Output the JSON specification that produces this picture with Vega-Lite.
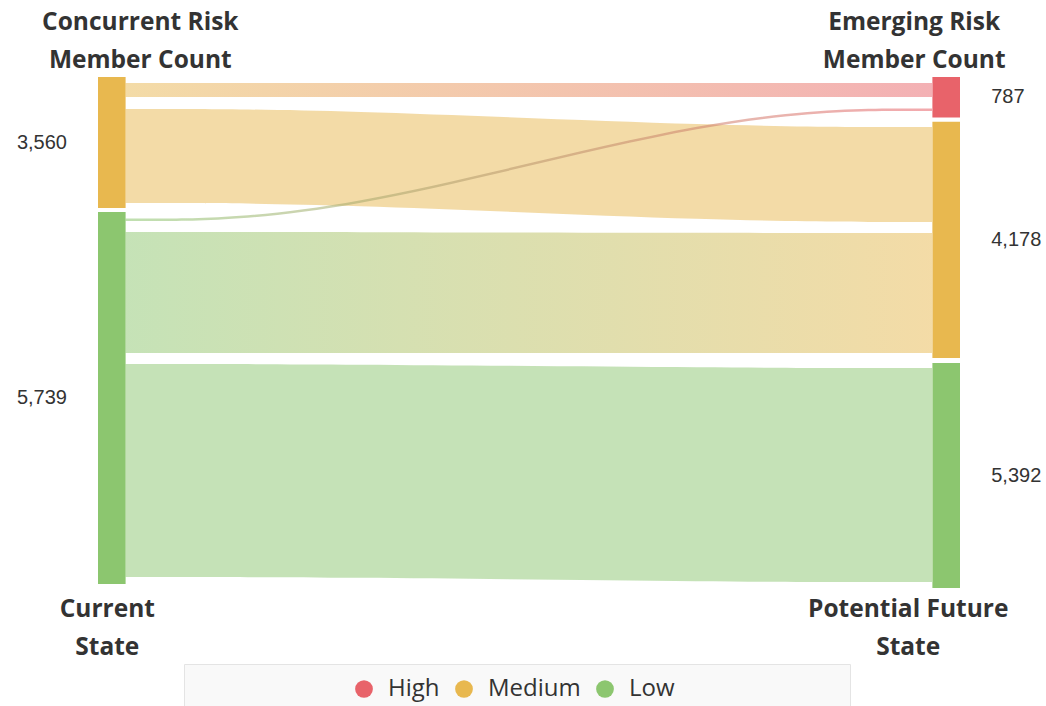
{
  "$schema": "https://vega.github.io/schema/vega-lite/v6.json",
  "width": 1046,
  "height": 706,
  "autosize": {"type": "none"},
  "padding": 0,
  "background": "white",
  "config": {"view": {"stroke": null}},
  "datasets": {
    "nodes": [
      {"stage": 0, "level": "Medium", "top": 0, "bottom": 131, "members": 3560},
      {"stage": 0, "level": "Low", "top": 135, "bottom": 507, "members": 5739},
      {"stage": 1, "level": "High", "top": 0, "bottom": 40.5, "members": 787},
      {"stage": 1, "level": "Medium", "top": 44.7, "bottom": 281, "members": 4178},
      {"stage": 1, "level": "Low", "top": 286, "bottom": 511, "members": 5392}
    ],
    "links": [
      {"flow": "Medium-High", "t": 0, "top": 6, "bottom": 20},
      {"flow": "Medium-High", "t": 0.25, "top": 6, "bottom": 20},
      {"flow": "Medium-High", "t": 0.75, "top": 6, "bottom": 20},
      {"flow": "Medium-High", "t": 1, "top": 6, "bottom": 20},
      {"flow": "Medium-Medium", "t": 0, "top": 32, "bottom": 126},
      {"flow": "Medium-Medium", "t": 0.25, "top": 32, "bottom": 126},
      {"flow": "Medium-Medium", "t": 0.75, "top": 50, "bottom": 145},
      {"flow": "Medium-Medium", "t": 1, "top": 50, "bottom": 145},
      {"flow": "Low-High", "t": 0, "top": 141.5, "bottom": 144},
      {"flow": "Low-High", "t": 0.25, "top": 141.5, "bottom": 144},
      {"flow": "Low-High", "t": 0.75, "top": 31.5, "bottom": 34},
      {"flow": "Low-High", "t": 1, "top": 31.5, "bottom": 34},
      {"flow": "Low-Medium", "t": 0, "top": 155, "bottom": 276},
      {"flow": "Low-Medium", "t": 0.25, "top": 155, "bottom": 276},
      {"flow": "Low-Medium", "t": 0.75, "top": 156, "bottom": 276},
      {"flow": "Low-Medium", "t": 1, "top": 156, "bottom": 276},
      {"flow": "Low-Low", "t": 0, "top": 287, "bottom": 500},
      {"flow": "Low-Low", "t": 0.25, "top": 287, "bottom": 500},
      {"flow": "Low-Low", "t": 0.75, "top": 291, "bottom": 505},
      {"flow": "Low-Low", "t": 1, "top": 291, "bottom": 505}
    ],
    "headers": [
      {"stage": 0, "place": "top", "lines": ["Concurrent Risk", "Member Count"]},
      {"stage": 1, "place": "top", "lines": ["Emerging Risk", "Member Count"]},
      {"stage": 0, "place": "bottom", "lines": ["Current", "State"]},
      {"stage": 1, "place": "bottom", "lines": ["Potential Future", "State"]}
    ]
  },
  "layer": [
    {
      "data": {"name": "links"},
      "transform": [{"filter": "datum.flow == 'Medium-High'"}],
      "mark": {"type": "area", "interpolate": "basis", "fillOpacity": 0.5,
        "fill": {"gradient": "linear", "x1": 0, "x2": 1, "y1": 0, "y2": 0,
          "stops": [{"offset": 0, "color": "#e8b84f"}, {"offset": 1, "color": "#e8636a"}]}},
      "encoding": {
        "x": {"field": "t", "type": "quantitative", "scale": {"domain": [0, 1], "range": [125.5, 932]}, "axis": null},
        "y": {"field": "top", "type": "quantitative", "scale": {"domain": [0, 511], "range": [77, 588]}, "axis": null, "stack": null},
        "y2": {"field": "bottom"}
      }
    },
    {
      "data": {"name": "links"},
      "transform": [{"filter": "datum.flow == 'Medium-Medium'"}],
      "mark": {"type": "area", "interpolate": "basis", "fillOpacity": 0.5, "fill": "#e8b84f"},
      "encoding": {
        "x": {"field": "t", "type": "quantitative", "scale": {"domain": [0, 1], "range": [125.5, 932]}, "axis": null},
        "y": {"field": "top", "type": "quantitative", "scale": {"domain": [0, 511], "range": [77, 588]}, "axis": null, "stack": null},
        "y2": {"field": "bottom"}
      }
    },
    {
      "data": {"name": "links"},
      "transform": [{"filter": "datum.flow == 'Low-High'"}],
      "mark": {"type": "area", "interpolate": "basis", "fillOpacity": 0.55,
        "fill": {"gradient": "linear", "x1": 0, "x2": 1, "y1": 0, "y2": 0,
          "stops": [{"offset": 0, "color": "#8cc66f"}, {"offset": 1, "color": "#e8636a"}]}},
      "encoding": {
        "x": {"field": "t", "type": "quantitative", "scale": {"domain": [0, 1], "range": [125.5, 932]}, "axis": null},
        "y": {"field": "top", "type": "quantitative", "scale": {"domain": [0, 511], "range": [77, 588]}, "axis": null, "stack": null},
        "y2": {"field": "bottom"}
      }
    },
    {
      "data": {"name": "links"},
      "transform": [{"filter": "datum.flow == 'Low-Medium'"}],
      "mark": {"type": "area", "interpolate": "basis", "fillOpacity": 0.5,
        "fill": {"gradient": "linear", "x1": 0, "x2": 1, "y1": 0, "y2": 0,
          "stops": [{"offset": 0, "color": "#8cc66f"}, {"offset": 1, "color": "#e8b84f"}]}},
      "encoding": {
        "x": {"field": "t", "type": "quantitative", "scale": {"domain": [0, 1], "range": [125.5, 932]}, "axis": null},
        "y": {"field": "top", "type": "quantitative", "scale": {"domain": [0, 511], "range": [77, 588]}, "axis": null, "stack": null},
        "y2": {"field": "bottom"}
      }
    },
    {
      "data": {"name": "links"},
      "transform": [{"filter": "datum.flow == 'Low-Low'"}],
      "mark": {"type": "area", "interpolate": "basis", "fillOpacity": 0.5, "fill": "#8cc66f"},
      "encoding": {
        "x": {"field": "t", "type": "quantitative", "scale": {"domain": [0, 1], "range": [125.5, 932]}, "axis": null},
        "y": {"field": "top", "type": "quantitative", "scale": {"domain": [0, 511], "range": [77, 588]}, "axis": null, "stack": null},
        "y2": {"field": "bottom"}
      }
    },
    {
      "data": {"name": "nodes"},
      "mark": {"type": "bar", "width": 27.6, "opacity": 1},
      "encoding": {
        "x": {"field": "stage", "type": "quantitative", "scale": {"domain": [0, 1], "range": [111.8, 946.2], "padding": 0}, "axis": null, "stack": null},
        "y": {"field": "top", "type": "quantitative", "scale": {"domain": [0, 511], "range": [77, 588]}, "axis": null, "stack": null},
        "y2": {"field": "bottom"},
        "color": {
          "field": "level", "type": "nominal",
          "scale": {"domain": ["High", "Medium", "Low"], "range": ["#e8636a", "#e8b84f", "#8cc66f"]},
          "legend": {
            "orient": "none", "legendX": 184, "legendY": 664, "direction": "horizontal",
            "title": "\u00a0", "titleOrient": "left", "titleFontSize": 1, "titlePadding": 155,
            "symbolType": "circle", "symbolSize": 314, "symbolStrokeWidth": 0, "symbolOpacity": 1,
            "labelFont": "Open Sans", "labelFontSize": 24, "labelColor": "#333333",
            "labelOffset": 12, "columnPadding": 12, "labelLimit": 1000, "padding": 13,
            "fillColor": "#f9f9f9", "strokeColor": "#e4e4e4",
            "labelExpr": "datum.label == 'Low' ? pad(datum.label, 29, '\u00a0') + '\u200b' : datum.label"
          }
        }
      }
    },
    {
      "data": {"name": "nodes"},
      "transform": [{"filter": "datum.stage == 0"}, {"calculate": "(datum.top + datum.bottom) / 2", "as": "mid"}],
      "mark": {"type": "text", "align": "right", "baseline": "middle", "dx": -44.8, "font": "Liberation Sans", "fontSize": 20, "color": "#333333"},
      "encoding": {
        "x": {"field": "stage", "type": "quantitative", "scale": {"domain": [0, 1], "range": [111.8, 946.2]}, "axis": null},
        "y": {"field": "mid", "type": "quantitative", "scale": {"domain": [0, 511], "range": [77, 588]}, "axis": null},
        "text": {"field": "members", "type": "quantitative", "format": ","}
      }
    },
    {
      "data": {"name": "nodes"},
      "transform": [{"filter": "datum.stage == 1"}, {"calculate": "(datum.top + datum.bottom) / 2", "as": "mid"}],
      "mark": {"type": "text", "align": "left", "baseline": "middle", "dx": 45, "font": "Liberation Sans", "fontSize": 20, "color": "#333333"},
      "encoding": {
        "x": {"field": "stage", "type": "quantitative", "scale": {"domain": [0, 1], "range": [111.8, 946.2]}, "axis": null},
        "y": {"field": "mid", "type": "quantitative", "scale": {"domain": [0, 511], "range": [77, 588]}, "axis": null},
        "text": {"field": "members", "type": "quantitative", "format": ","}
      }
    },
    {
      "data": {"name": "headers"},
      "transform": [{"filter": "datum.stage == 0 && datum.place == 'top'"}],
      "mark": {"type": "text", "align": "center", "baseline": "alphabetic", "dx": 28.5, "lineHeight": 38, "font": "Open Sans", "fontWeight": "bold", "fontSize": 24.5, "color": "#333333"},
      "encoding": {
        "x": {"field": "stage", "type": "quantitative", "scale": {"domain": [0, 1], "range": [111.8, 946.2]}, "axis": null},
        "y": {"field": "place", "type": "nominal", "scale": {"domain": ["top", "bottom"], "range": [30, 617], "padding": 0}, "axis": null},
        "text": {"field": "lines"}
      }
    },
    {
      "data": {"name": "headers"},
      "transform": [{"filter": "datum.stage == 1 && datum.place == 'top'"}],
      "mark": {"type": "text", "align": "center", "baseline": "alphabetic", "dx": -32, "lineHeight": 38, "font": "Open Sans", "fontWeight": "bold", "fontSize": 24.5, "color": "#333333"},
      "encoding": {
        "x": {"field": "stage", "type": "quantitative", "scale": {"domain": [0, 1], "range": [111.8, 946.2]}, "axis": null},
        "y": {"field": "place", "type": "nominal", "scale": {"domain": ["top", "bottom"], "range": [30, 617], "padding": 0}, "axis": null},
        "text": {"field": "lines"}
      }
    },
    {
      "data": {"name": "headers"},
      "transform": [{"filter": "datum.stage == 0 && datum.place == 'bottom'"}],
      "mark": {"type": "text", "align": "center", "baseline": "alphabetic", "dx": -4.5, "lineHeight": 38, "font": "Open Sans", "fontWeight": "bold", "fontSize": 24.5, "color": "#333333"},
      "encoding": {
        "x": {"field": "stage", "type": "quantitative", "scale": {"domain": [0, 1], "range": [111.8, 946.2]}, "axis": null},
        "y": {"field": "place", "type": "nominal", "scale": {"domain": ["top", "bottom"], "range": [30, 617], "padding": 0}, "axis": null},
        "text": {"field": "lines"}
      }
    },
    {
      "data": {"name": "headers"},
      "transform": [{"filter": "datum.stage == 1 && datum.place == 'bottom'"}],
      "mark": {"type": "text", "align": "center", "baseline": "alphabetic", "dx": -38, "lineHeight": 38, "font": "Open Sans", "fontWeight": "bold", "fontSize": 24.5, "color": "#333333"},
      "encoding": {
        "x": {"field": "stage", "type": "quantitative", "scale": {"domain": [0, 1], "range": [111.8, 946.2]}, "axis": null},
        "y": {"field": "place", "type": "nominal", "scale": {"domain": ["top", "bottom"], "range": [30, 617], "padding": 0}, "axis": null},
        "text": {"field": "lines"}
      }
    }
  ],
  "resolve": {"scale": {"x": "independent", "y": "independent"}}
}
